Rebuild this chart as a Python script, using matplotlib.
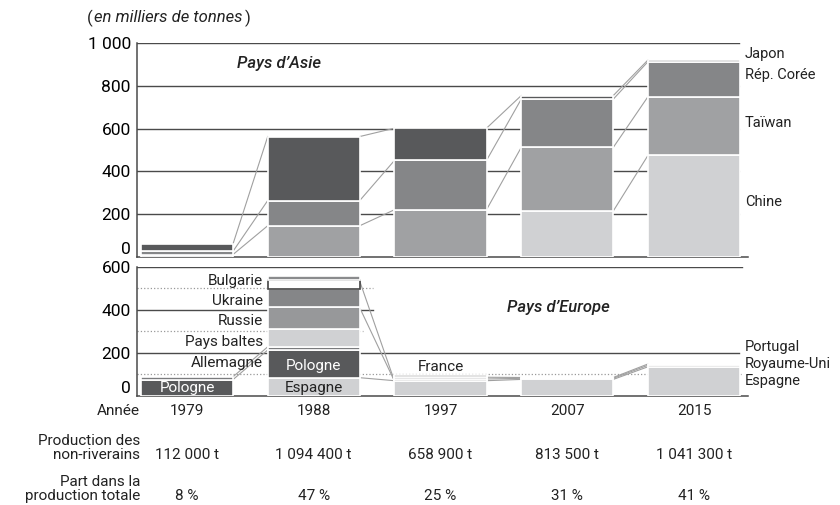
import matplotlib.pyplot as plt
import numpy as np

plt.rcParams['font.family'] = ['Roboto', 'DejaVu Sans']
plt.rcParams['text.color'] = '#222222'

# --- data (milliers de tonnes) ---
years = ['1979', '1988', '1997', '2007', '2015']
production = ['112 000 t', '1 094 400 t', '658 900 t', '813 500 t', '1 041 300 t']
part = ['8 %', '47 %', '25 %', '31 %', '41 %']

# Asie, du bas vers le haut
asie_noms = ['Chine', 'Taïwan', 'Rép. Corée', 'Japon']
chine = [0, 0, 0, 214, 475]
taiwan = [10, 145, 220, 298, 275]
coree = [15, 118, 231, 226, 164]
japon = [34, 300, 151, 17, 8]

# Europe, du bas vers le haut
europe_noms = ['Espagne', 'Pologne', 'Allemagne', 'Pays baltes', 'Russie', 'Ukraine',
               'Bulgarie', 'Autres', 'Royaume-Uni', 'Portugal', 'France']
espagne = [0, 84, 70, 76, 135]
pologne = [75, 129, 0, 0, 0]
allemagne = [13, 15, 0, 0, 0]
baltes = [0, 83, 0, 0, 0]
russie = [0, 104, 0, 0, 0]
ukraine = [0, 81, 0, 0, 0]
bulgarie = [0, 43, 0, 0, 0]
autres = [0, 20, 0, 0, 0]
royaume_uni = [0, 0, 8, 5, 7]
portugal = [0, 0, 8, 4, 6]
france = [0, 0, 10, 0, 0]

asie = [chine, taiwan, coree, japon]
asie_coul = ['#d0d1d3', '#a0a1a3', '#858688', '#58595b']
asie_bord = ['white'] * 4

europe = [espagne, pologne, allemagne, baltes, russie, ukraine, bulgarie, autres,
          royaume_uni, portugal, france]
europe_coul = ['#d0d1d3', '#58595b', '#7a7b7d', '#d0d1d3', '#97989a', '#858688',
               'white', '#8a8b8d', '#8a8b8d', '#6d6e70', '#58595b']
europe_bord = ['white'] * 6 + ['#444444'] + ['white'] * 4

x = np.arange(len(years))
w = 0.726
grid_c = '#4a4a4a'
link_c = '#a0a0a0'


def empile(ax, series, couleurs, bords):
    bas = np.zeros(len(years))
    tops = []
    for vals, c, e in zip(series, couleurs, bords):
        vals = np.array(vals, float)
        m = vals > 0
        ax.bar(x[m], vals[m], width=w, bottom=bas[m], color=c, edgecolor=e,
               linewidth=1.2, zorder=3)
        bas = bas + vals
        tops.append((vals, bas.copy()))
    for vals, top in tops:
        for i in range(len(years) - 1):
            if vals[i] > 0 and vals[i + 1] > 0:
                ax.plot([x[i] + w / 2, x[i + 1] - w / 2], [top[i], top[i + 1]],
                        color=link_c, lw=0.8, zorder=2)
    return tops


def habille(ax, ymax, ticks):
    ax.set_xlim(-0.394, 4.426)
    ax.set_ylim(0, ymax)
    for s in ['top', 'right']:
        ax.spines[s].set_visible(False)
    ax.spines['left'].set_color(grid_c)
    ax.spines['bottom'].set_color(grid_c)
    ax.spines['left'].set_linewidth(1.1)
    ax.spines['bottom'].set_linewidth(1.1)
    ax.set_xticks([])
    ax.set_yticks(ticks)
    ax.set_yticklabels([f'{t:,}'.replace(',', ' ') for t in ticks], fontsize=12.5)
    ax.tick_params(axis='y', length=0, pad=4.5)
    ax.yaxis.get_major_ticks()[0].label1.set_verticalalignment('bottom')


fig = plt.figure(figsize=(8.4, 5.05), dpi=100)
ax1 = fig.add_axes([0.1631, 0.4917, 0.7274, 0.4226])
ax2 = fig.add_axes([0.1631, 0.2164, 0.7274, 0.2549])

# ---- Asie ----
habille(ax1, 1000, [0, 200, 400, 600, 800, 1000])
for g in [200, 400, 600, 800, 1000]:
    ax1.axhline(g, xmax=0.985, color=grid_c, lw=1.0, zorder=1)
empile(ax1, asie, asie_coul, asie_bord)
ax1.text(0.73, 905, 'Pays d\u2019Asie', style='italic', fontsize=12, fontweight='medium',
         ha='center', va='center')
for nom, yv in zip(['Japon', 'Rép. Corée', 'Taïwan', 'Chine'], [950, 850, 625, 255]):
    ax1.text(4.40, yv, nom, fontsize=10.5, ha='left', va='center')

# ---- Europe ----
habille(ax2, 600, [0, 200, 400, 600])
ax2.axhline(600, xmax=0.99, color=grid_c, lw=1.0, zorder=1)
ax2.axhline(200, xmax=0.985, color=grid_c, lw=1.0, zorder=1)
ax2.axhline(400, xmax=0.386, color=grid_c, lw=1.0, zorder=1)
ax2.axhline(500, xmax=0.386, color='#999999', lw=0.9, ls=':', zorder=1)
ax2.axhline(300, xmax=0.37, color='#999999', lw=0.9, ls=':', zorder=1)
ax2.axhline(100, xmax=0.99, color='#999999', lw=0.9, ls=':', zorder=1)
tops = empile(ax2, europe, europe_coul, europe_bord)

# liens 1988 -> 1997
for k in [6, 4]:
    ax2.plot([x[1] + w / 2, x[2] - w / 2], [tops[k][1][1] - 5, tops[-1][1][2] - 28],
             color=link_c, lw=0.8, zorder=2)

ax2.text(2.93, 409, 'Pays d\u2019Europe', style='italic', fontsize=12, fontweight='medium',
         ha='center', va='center')
lx = x[1] - w / 2 - 0.04
for nom, yv in zip(['Bulgarie', 'Ukraine', 'Russie', 'Pays baltes', 'Allemagne'],
                   [535, 441, 349, 250, 152]):
    ax2.text(lx, yv, nom, fontsize=11, ha='right', va='center')
ax2.text(x[0], 36, 'Pologne', fontsize=11, color='white', ha='center', va='center', zorder=5)
ax2.text(x[1], 139, 'Pologne', fontsize=11, color='white', ha='center', va='center', zorder=5)
ax2.text(x[1], 36, 'Espagne', fontsize=11, ha='center', va='center', zorder=5)
ax2.text(x[2], 134, 'France', fontsize=11, ha='center', va='center', zorder=5)
for nom, yv in zip(['Portugal', 'Royaume-Uni', 'Espagne'], [228, 148, 68]):
    ax2.text(4.40, yv, nom, fontsize=10.5, ha='left', va='center')

# ---- tableau ----
tr = ax2.get_xaxis_transform()
def fy(py):
    return 1 - py / 505

t0 = fig.text(87 / 840, fy(18), '(', fontsize=12, va='center', ha='left')
fig.canvas.draw()
r = fig.canvas.get_renderer()
bx = t0.get_window_extent(r).x1
t1 = fig.text(bx / 840 + 0.002, fy(18), 'en milliers de tonnes', fontsize=12, style='italic',
              va='center', ha='left')
fig.canvas.draw()
bx = t1.get_window_extent(r).x1
fig.text(bx / 840 + 0.002, fy(18), ')', fontsize=12, va='center', ha='left')

fig.text(140 / 840, fy(411), 'Année', fontsize=11, ha='right', va='center')
fig.text(140 / 840, fy(448), 'Production des\nnon-riverains', fontsize=11, ha='right',
         va='center', linespacing=0.95)
fig.text(140 / 840, fy(489), 'Part dans la\nproduction totale', fontsize=11, ha='right',
         va='center', linespacing=0.95)
for i in range(len(years)):
    ax2.text(x[i], (fy(411) - 0.2164) / 0.2549, years[i], transform=tr, fontsize=11,
             ha='center', va='center')
    ax2.text(x[i], (fy(455) - 0.2164) / 0.2549, production[i], transform=tr, fontsize=11,
             ha='center', va='center')
    ax2.text(x[i], (fy(496) - 0.2164) / 0.2549, part[i], transform=tr, fontsize=11,
             ha='center', va='center')

fig.savefig('out.png', dpi=100)
